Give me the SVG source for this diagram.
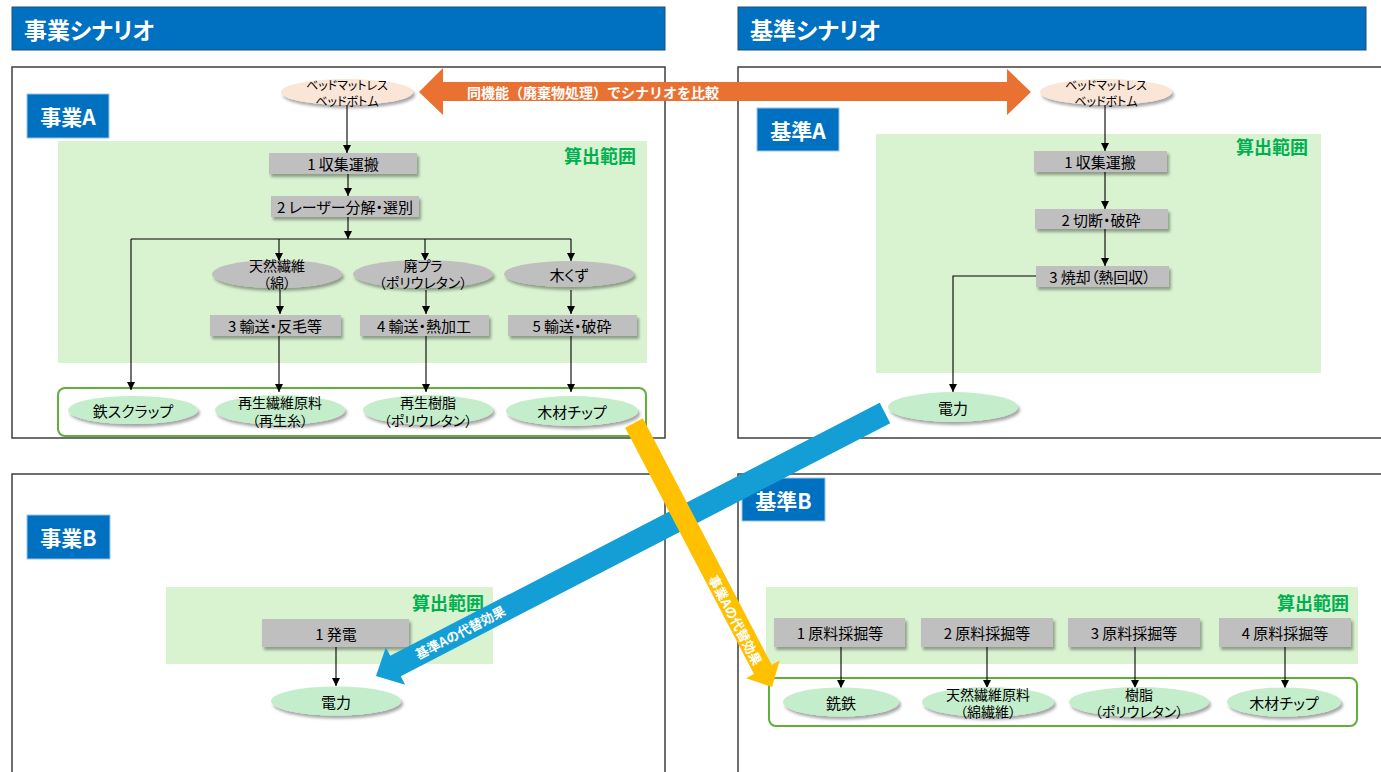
<svg xmlns="http://www.w3.org/2000/svg" width="1381" height="772" viewBox="0 0 1381 772">
<style>
text{font-family:"Noto Sans CJK JP","Noto Sans",sans-serif;dominant-baseline:central;text-anchor:middle;fill:#000;font-size:15px;font-feature-settings:"palt"}
.hdr{fill:#0070C0;stroke:#1F4E79;stroke-width:1}
.hdrt{font-size:23px;font-weight:bold;fill:#fff;text-anchor:start}
.panel{fill:#fff;stroke:#3F3F3F;stroke-width:1.5}
.scope{fill:#D9F2D0}
.scopet{font-size:18px;font-weight:bold;fill:#00B050;text-anchor:end}
.lbl{fill:#0070C0;stroke:#9DC3E6;stroke-width:1}
.lblt{font-size:21px;font-weight:bold;fill:#fff}
.box{fill:#BFBFBF;filter:url(#sh)}
.eg{fill:#BFBFBF;filter:url(#sh)}
.el{fill:#C4EECB;filter:url(#sh)}
.ep{fill:#FBE5D6;filter:url(#sh)}
.bed{font-size:12px}
.two{font-size:14px}
.cont{fill:none;stroke:#5FAF3A;stroke-width:2}
.ln{fill:none;stroke:#000;stroke-width:1.1}
.arw{marker-end:url(#ah)}
.bigt{font-size:13px;font-weight:bold;fill:#fff;font-feature-settings:normal}
</style>
<defs>
<filter id="sh" x="-20%" y="-40%" width="150%" height="200%">
<feDropShadow dx="2" dy="3" stdDeviation="1.8" flood-color="#000" flood-opacity="0.35"/>
</filter>
<marker id="ah" viewBox="0 0 8 8" refX="8" refY="4" markerWidth="8" markerHeight="8" markerUnits="userSpaceOnUse" orient="auto">
<path d="M0,0 L8,4 L0,8 z" fill="#000"/>
</marker>
</defs>

<g id="headers">
<rect class="hdr" x="12" y="7" width="653" height="43"/>
<text class="hdrt" x="24" y="29">事業シナリオ</text>
<rect class="hdr" x="738" y="7" width="628" height="43"/>
<text class="hdrt" x="750" y="29">基準シナリオ</text>
</g>

<g id="panels">
<rect class="panel" x="12" y="67" width="653" height="371"/>
<rect class="panel" x="738" y="67" width="660" height="371"/>
<rect class="panel" x="12" y="474" width="653" height="310"/>
<rect class="panel" x="738" y="474" width="660" height="310"/>
</g>

<g id="scopes">
<rect class="scope" x="58" y="141" width="589" height="222"/>
<text class="scopet" x="636" y="155">算出範囲</text>
<rect class="scope" x="876" y="134" width="445" height="239"/>
<text class="scopet" x="1308" y="146">算出範囲</text>
<rect class="scope" x="166" y="587" width="327" height="77"/>
<text class="scopet" x="484" y="602">算出範囲</text>
<rect class="scope" x="766" y="587" width="592" height="77"/>
<text class="scopet" x="1349" y="602">算出範囲</text>
</g>

<g id="labels">
<g id="lbl-jigyoA"><rect class="lbl" x="27" y="94" width="82" height="44"/><text class="lblt" x="68" y="116">事業A</text></g>
<g id="lbl-kijunA"><rect class="lbl" x="757" y="108" width="82" height="43"/><text class="lblt" x="798" y="130">基準A</text></g>
<g id="lbl-jigyoB"><rect class="lbl" x="27" y="515" width="83" height="44"/><text class="lblt" x="68.5" y="537">事業B</text></g>
<g id="lbl-kijunB"><rect class="lbl" x="742" y="478" width="83" height="43"/><text class="lblt" x="783.5" y="500">基準B</text></g>
</g>

<g id="containers">
<rect class="cont" x="58" y="388" width="588" height="48" rx="7"/>
<rect class="cont" x="769" y="678" width="588" height="48" rx="7"/>
</g>

<g id="connectors">
<line class="ln arw" x1="347" y1="105" x2="347" y2="153"/>
<line class="ln arw" x1="348" y1="174" x2="348" y2="196"/>
<line class="ln arw" x1="348" y1="217" x2="348" y2="239"/>
<line class="ln" x1="131" y1="239" x2="571" y2="239"/>
<line class="ln arw" x1="131" y1="239" x2="131" y2="390"/>
<line class="ln arw" x1="279" y1="239" x2="279" y2="261"/>
<line class="ln arw" x1="425" y1="239" x2="425" y2="261"/>
<line class="ln arw" x1="571" y1="239" x2="571" y2="261"/>
<line class="ln arw" x1="280" y1="290" x2="280" y2="314"/>
<line class="ln arw" x1="426" y1="290" x2="426" y2="314"/>
<line class="ln arw" x1="571" y1="290" x2="571" y2="314"/>
<line class="ln arw" x1="279" y1="336" x2="279" y2="392"/>
<line class="ln arw" x1="426" y1="336" x2="426" y2="392"/>
<line class="ln arw" x1="571" y1="336" x2="571" y2="392"/>
<line class="ln arw" x1="1105" y1="105" x2="1105" y2="151"/>
<line class="ln arw" x1="1105" y1="172" x2="1105" y2="209"/>
<line class="ln arw" x1="1105" y1="229" x2="1105" y2="266"/>
<polyline class="ln arw" points="1036,276 953,276 953,392"/>
<line class="ln arw" x1="336" y1="647" x2="336" y2="686"/>
<line class="ln arw" x1="841" y1="647" x2="841" y2="688"/>
<line class="ln arw" x1="987" y1="647" x2="987" y2="688"/>
<line class="ln arw" x1="1135" y1="647" x2="1135" y2="688"/>
<line class="ln arw" x1="1285" y1="647" x2="1285" y2="688"/>
</g>

<g id="node-bedA"><ellipse class="ep" cx="347" cy="92" rx="66" ry="13"/><text class="bed" x="347" y="84">ベッドマットレス<tspan x="347" dy="16">ベッドボトム</tspan></text></g>
<g id="node-a1"><rect class="box" x="269" y="153" width="148" height="21"/><text x="343" y="163.5">1 収集運搬</text></g>
<g id="node-a2"><rect class="box" x="271" y="196" width="148" height="21"/><text x="345" y="206.5">2 レーザー分解・選別</text></g>
<g id="node-fiber"><ellipse class="eg" cx="277" cy="274" rx="65" ry="14"/><text class="two" x="277" y="264.5">天然繊維<tspan x="277" dy="17.5">（綿）</tspan></text></g>
<g id="node-plastic"><ellipse class="eg" cx="423" cy="274" rx="70" ry="14"/><text class="two" x="423" y="264.5">廃プラ<tspan x="423" dy="17.5">（ポリウレタン）</tspan></text></g>
<g id="node-wood"><ellipse class="eg" cx="569" cy="274" rx="65" ry="13"/><text x="569" y="274">木くず</text></g>
<g id="node-a3"><rect class="box" x="210" y="315" width="131" height="21"/><text x="275" y="325.5">3 輸送・反毛等</text></g>
<g id="node-a4"><rect class="box" x="360" y="315" width="129" height="21"/><text x="424" y="325.5">4 輸送・熱加工</text></g>
<g id="node-a5"><rect class="box" x="508" y="315" width="129" height="21"/><text x="572" y="325.5">5 輸送・破砕</text></g>
<g id="node-scrap"><ellipse class="el" cx="133" cy="410" rx="65" ry="14"/><text x="133" y="410">鉄スクラップ</text></g>
<g id="node-recfiber"><ellipse class="el" cx="280" cy="410" rx="65" ry="15"/><text class="two" x="280" y="402">再生繊維原料<tspan x="280" dy="17.5">（再生糸）</tspan></text></g>
<g id="node-recresin"><ellipse class="el" cx="428" cy="410" rx="65" ry="15"/><text class="two" x="428" y="402">再生樹脂<tspan x="428" dy="17.5">（ポリウレタン）</tspan></text></g>
<g id="node-chipA"><ellipse class="el" cx="572" cy="411" rx="66" ry="15"/><text x="572" y="411">木材チップ</text></g>

<g id="node-bedK"><ellipse class="ep" cx="1106" cy="92" rx="66" ry="13"/><text class="bed" x="1106" y="84">ベッドマットレス<tspan x="1106" dy="16">ベッドボトム</tspan></text></g>
<g id="node-k1"><rect class="box" x="1034" y="151" width="133" height="21"/><text x="1100" y="161.5">1 収集運搬</text></g>
<g id="node-k2"><rect class="box" x="1035" y="209" width="133" height="20"/><text x="1101" y="219">2 切断・破砕</text></g>
<g id="node-k3"><rect class="box" x="1036" y="266" width="133" height="21"/><text x="1100" y="276.5">3 焼却（熱回収）</text></g>
<g id="node-powerK"><ellipse class="el" cx="953" cy="407" rx="65" ry="15"/><text x="953" y="407">電力</text></g>

<g id="node-b1"><rect class="box" x="262" y="619" width="147" height="28"/><text x="336" y="633">1 発電</text></g>
<g id="node-powerB"><ellipse class="el" cx="336" cy="701" rx="65" ry="14.5"/><text x="336" y="701">電力</text></g>

<g id="node-kb1"><rect class="box" x="774" y="618" width="131" height="29"/><text x="840" y="632.5">1 原料採掘等</text></g>
<g id="node-kb2"><rect class="box" x="921" y="618" width="132" height="29"/><text x="987" y="632.5">2 原料採掘等</text></g>
<g id="node-kb3"><rect class="box" x="1068" y="618" width="132" height="29"/><text x="1134" y="632.5">3 原料採掘等</text></g>
<g id="node-kb4"><rect class="box" x="1219" y="618" width="132" height="29"/><text x="1285" y="632.5">4 原料採掘等</text></g>
<g id="node-pigiron"><ellipse class="el" cx="841" cy="702" rx="58" ry="14.5"/><text x="841" y="702">銑鉄</text></g>
<g id="node-natfiber"><ellipse class="el" cx="988" cy="702" rx="66" ry="15"/><text class="two" x="988" y="693.5">天然繊維原料<tspan x="988" dy="17.5">（綿繊維）</tspan></text></g>
<g id="node-resin"><ellipse class="el" cx="1139" cy="702" rx="70" ry="15"/><text class="two" x="1139" y="693.5">樹脂<tspan x="1139" dy="17.5">（ポリウレタン）</tspan></text></g>
<g id="node-chipK"><ellipse class="el" cx="1284" cy="702" rx="57" ry="14.5"/><text x="1284" y="702">木材チップ</text></g>

<g id="arrow-compare">
<polygon fill="#E97132" points="419,92 443,68 443,82 1007,82 1007,69 1031,92 1007,115 1007,101 443,101 443,115"/>
<text class="bigt" x="467" y="91.5" style="text-anchor:start;font-size:14px">同機能（廃棄物処理）でシナリオを比較</text>
</g>

<g id="arrow-kijunA" transform="translate(885,413) rotate(152.67)">
<polygon fill="#139FD6" points="0,-11.5 551,-11.5 551,-21 573,0 551,21 551,11.5 0,11.5"/>
</g>
<text class="bigt" transform="translate(460,632) rotate(-27.3)">基準Aの代替効果</text>

<g id="arrow-jigyoA" transform="translate(634,423) rotate(62.4)">
<polygon fill="#FFC000" points="0,-10 278,-10 278,-19 298,0 278,19 278,10 0,10"/>
</g>
<text class="bigt" transform="translate(736,620) rotate(62.4)">事業Aの代替効果</text>
</svg>
